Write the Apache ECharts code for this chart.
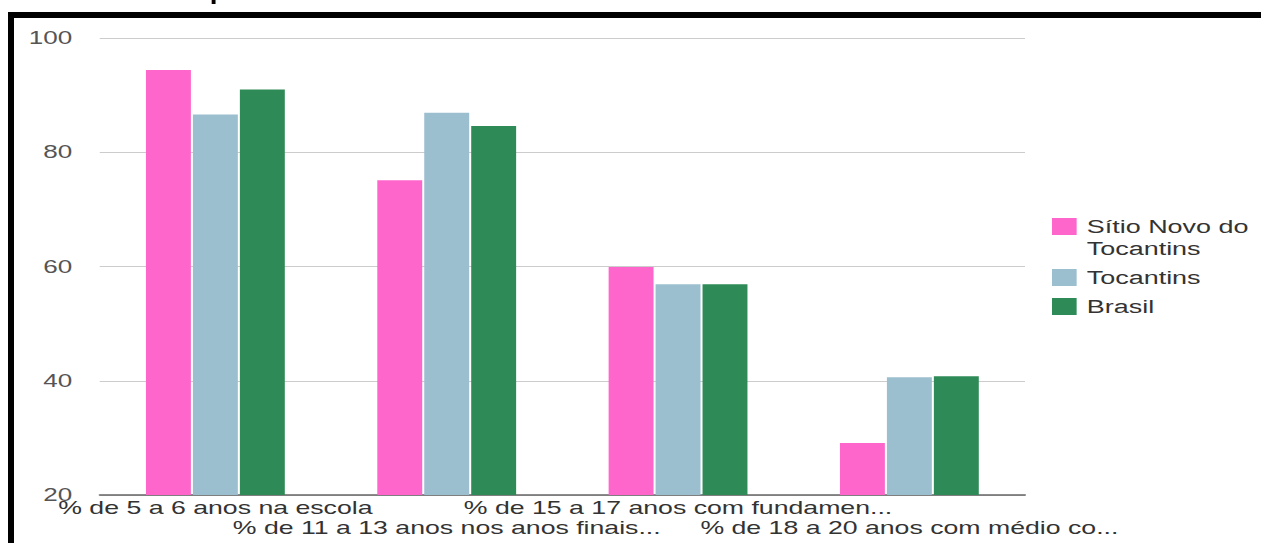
<!DOCTYPE html>
<html>
<head>
<meta charset="utf-8">
<script src="https://cdn.jsdelivr.net/npm/echarts@6/dist/echarts.min.js"></script>
<style>
  html, body { margin: 0; padding: 0; background: #fff; overflow: hidden; }
  #wrap { position: relative; width: 1261px; height: 543px; overflow: hidden; }
  /* chart is laid out at a narrower width and stretched horizontally */
  #chart { position: absolute; left: 0; top: 0; width: 870px; height: 543px;
           transform: scaleX(1.44943); transform-origin: 0 0; }
  #frame { position: absolute; left: 8px; top: 12px; right: 0; bottom: 0;
           border-top: 6px solid #000; border-left: 6px solid #000; pointer-events: none; }
</style>
</head>
<body>
<div id="wrap">
  <div id="chart"></div>
  <div id="frame"></div>
</div>
<script>
const titleText = 'Fluxo escolar por faixa etária - Sítio Novo do Tocantins - TO';
const categories = [
  '% de 5 a 6 anos na escola',
  '% de 11 a 13 anos nos anos finais...',
  '% de 15 a 17 anos com fundamen...',
  '% de 18 a 20 anos com médio co...'
];
const seriesNames = ['Sítio Novo do Tocantins', 'Tocantins', 'Brasil'];
const sitioNovo = [94.4, 75.1, 59.9, 29.1];
const tocantins = [86.6, 86.9, 56.9, 40.6];
const brasil = [91.0, 84.6, 56.9, 40.8];
const yTicks = { min: 20, max: 100, interval: 20 };

const colors = ['#ff66cc', '#9bbfce', '#2e8b57'];
const font = 'Arial, "Liberation Sans", sans-serif';

const chart = echarts.init(document.getElementById('chart'), null, { renderer: 'svg' });

const values = [sitioNovo, tocantins, brasil];

chart.setOption({
  animation: false,
  color: colors,
  graphic: [{
    type: 'text',
    x: 17,
    y: 3,
    style: {
      text: titleText,
      font: 'bold 19px ' + font,
      fill: '#000',
      verticalAlign: 'bottom'
    }
  }],
  grid: { left: 68.8, right: 162.8, top: 38, bottom: 48, containLabel: false },
  legend: {
    orient: 'vertical',
    left: 725.8,
    top: 193.5,
    padding: 0,
    itemWidth: 17,
    itemHeight: 17,
    itemGap: 7,
    icon: 'rect',
    // the long name wraps; a leading blank line keeps its first line level with the swatch
    formatter: name => (name === seriesNames[0] ? '\n' + name : name),
    textStyle: {
      fontFamily: font, fontSize: 18.6, color: '#333',
      lineHeight: 22, width: 140, overflow: 'break', padding: [0, 0, 0, 2]
    },
    data: seriesNames
  },
  xAxis: {
    type: 'category',
    data: categories,
    axisTick: { show: false },
    axisLine: { lineStyle: { color: '#666', width: 1.5 } },
    axisLabel: {
      interval: 0,
      margin: 3,
      fontFamily: font,
      fontSize: 18.4,
      lineHeight: 20,
      color: '#333',
      formatter: (v, i) => (i % 2 === 1 ? '\n' + v : v)
    }
  },
  yAxis: {
    type: 'value',
    min: yTicks.min,
    max: yTicks.max,
    interval: yTicks.interval,
    axisLine: { show: false },
    axisTick: { show: false },
    splitLine: { lineStyle: { color: '#cccccc', width: 1 } },
    axisLabel: { margin: 19, fontFamily: font, fontSize: 18, color: '#555' }
  },
  series: seriesNames.map((name, k) => ({
    name,
    type: 'bar',
    data: values[k],
    barWidth: 31,
    barGap: '4.5%'
  }))
});
</script>
</body>
</html>
